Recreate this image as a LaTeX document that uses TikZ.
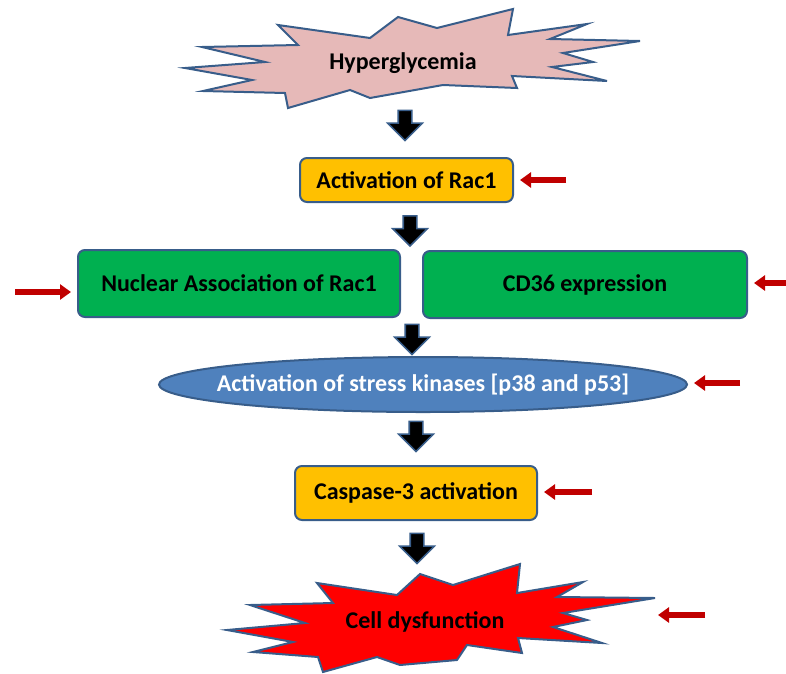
\documentclass[tikz,border=0pt]{standalone}
\usepackage{fontspec}
\setmainfont{Carlito}
\usepackage{tikz}
\usetikzlibrary{arrows.meta,shapes.geometric,shapes.arrows}

\definecolor{outline}{RGB}{56,93,138}
\definecolor{pinkfill}{RGB}{230,185,184}
\definecolor{boxyellow}{RGB}{255,192,0}
\definecolor{boxgreen}{RGB}{0,176,80}
\definecolor{kinblue}{RGB}{79,129,189}
\definecolor{darkred}{RGB}{192,0,0}

\begin{document}
\begin{tikzpicture}[x=1pt,y=-1pt,
  font=\fontsize{24}{28}\selectfont\bfseries,
  burst/.style={draw=outline,line width=2pt,line join=miter},
  stepbox/.style={draw=outline,line width=2pt,rounded corners=7pt,inner sep=0pt},
  blockarrow/.style={single arrow,draw=outline,fill=black,line width=1.6pt,
    shape border rotate=270,minimum height=30pt,
    single arrow head extend=10.5pt,inner sep=0pt},
  redarrow/.style={draw=darkred,line width=6.5pt,-{Triangle[length=11pt,width=15pt]},shorten >=6pt}]

\useasboundingbox (0,0) rectangle (786,673);

% starbursts
\draw[burst,fill=pinkfill] (278,25) -- (370,38) -- (398,17) -- (437,28) -- (513,9)
  -- (508,35) -- (587,24) -- (550,39) -- (640,41) -- (563,53) -- (593,62)
  -- (552,67) -- (607,81) -- (512,76) -- (517,88) -- (443,85) -- (370,98)
  -- (350,90) -- (288,108) -- (285,93) -- (203,91) -- (252,80) -- (185,68)
  -- (265,62) -- (202,47) -- (298,45) -- cycle;
\draw[burst,fill=red] (420,574) -- (453,585) -- (520,564) -- (517,593) -- (583,582)
  -- (557,597) -- (655,598) -- (563,613) -- (587,620) -- (553,627) -- (602,643)
  -- (518,638) -- (522,653) -- (467,645) -- (457,660) -- (400,665) -- (377,657)
  -- (323,672) -- (318,657) -- (253,652) -- (293,642) -- (227,630) -- (305,623)
  -- (250,605) -- (333,603) -- (317,583) -- (397,595) -- cycle;
\coordinate (cell_E) at (655,615);

\node (hyper) at (403,63) {Hyperglycemia};
\node (cell) at (425,622) {Cell dysfunction};

\node[stepbox,fill=boxyellow,minimum width=213pt,minimum height=44pt] (rac1) at (406.5,180) {Activation of Rac1};
\node[stepbox,fill=boxgreen,minimum width=322pt,minimum height=67pt] (nuc) at (239,283.5) {Nuclear Association of Rac1};
\node[stepbox,fill=boxgreen,minimum width=324pt,minimum height=67pt] (cd36) at (585,284.5) {CD36 expression};
\node[ellipse,draw=outline,line width=2pt,fill=kinblue,text=white,inner sep=0pt,
  minimum width=528pt,minimum height=55pt] (kin) at (423,384.5)
  {\makebox[0pt]{Activation of stress kinases [p38 and p53]}};
\node[stepbox,fill=boxyellow,minimum width=242pt,minimum height=54pt] (casp) at (416,493) {Caspase-3 activation};

% block arrows
\node[blockarrow] (b1) at (405,122) {\phantom{\rule{12pt}{12pt}}};
\node[blockarrow] (b2) at (410,227.5) {\phantom{\rule{12pt}{12pt}}};
\node[blockarrow] (b3) at (412,336) {\phantom{\rule{12pt}{12pt}}};
\node[blockarrow] (b4) at (416,433) {\phantom{\rule{12pt}{12pt}}};
\node[blockarrow] (b5) at (417,545) {\phantom{\rule{12pt}{12pt}}};

% red arrows
\coordinate (r1) at (566,180);
\coordinate (r2) at (15,292);
\coordinate (r3) at (790,283);
\coordinate (r4) at (740,383);
\coordinate (r5) at (592,492);
\coordinate (r6) at (705,615);

\path
  (r1) edge [redarrow] (rac1)
  (r2) edge [redarrow] (r2 -| nuc.west)
  (r3) edge [redarrow] (r3 -| cd36.east)
  (r4) edge [redarrow] (r4 -| kin.east)
  (r5) edge [redarrow] (r5 -| casp.east)
  (r6) edge [redarrow,shorten >=3pt] (cell_E)
;
\end{tikzpicture}
\end{document}
